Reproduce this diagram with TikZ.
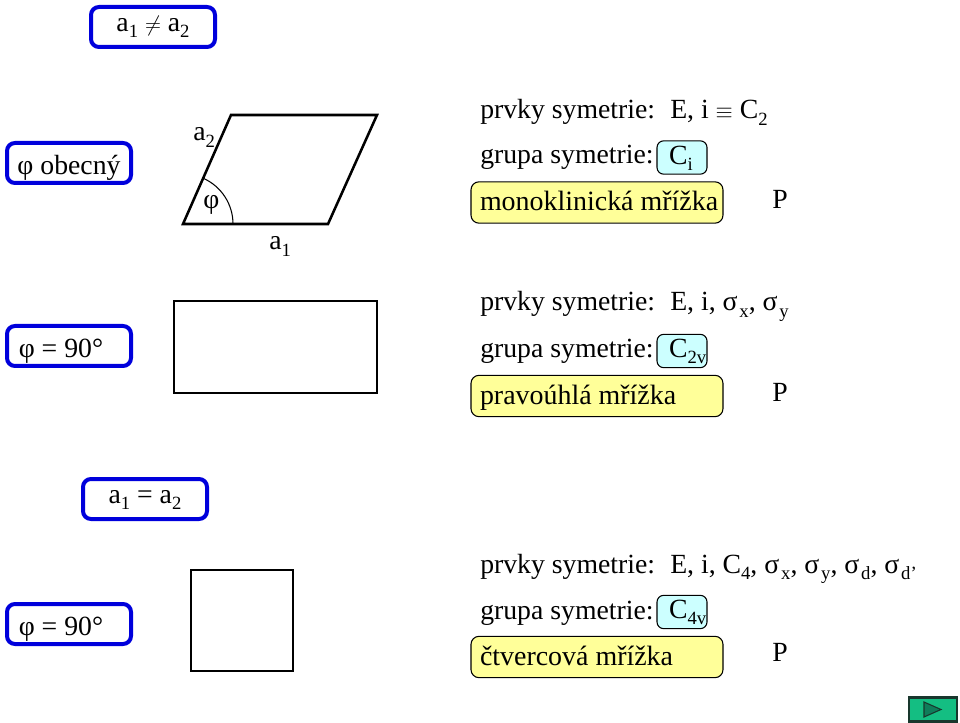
\documentclass[tikz,border=0pt]{standalone}
\usepackage{fontspec}
\usepackage{graphicx}
\setmainfont{Liberation Serif}
\newcommand{\subs}[1]{\raisebox{-0.22em}{\fontsize{14pt}{15pt}\selectfont #1}}
\newcommand{\sg}{σ\kern1.4pt}
\newcommand{\cyl}[1]{\makebox[37.5pt][l]{\hspace{9pt}#1}}
\newcommand{\yel}[1]{\makebox[189pt][l]{\hspace{6.75pt}\fontsize{20.95pt}{24pt}\selectfont #1}}
\definecolor{bluebox}{RGB}{0,0,220}
\definecolor{yellowbox}{RGB}{255,255,153}
\definecolor{cyanbox}{RGB}{204,255,255}
\definecolor{btngreen}{RGB}{20,190,130}
\definecolor{btndark}{RGB}{15,125,90}
\definecolor{btnedge}{RGB}{25,55,45}
\tikzset{
  x=0.75pt,y=-0.75pt,
  every node/.style={font=\fontsize{20.8pt}{24pt}\selectfont,inner sep=0pt,text=black},
  txt/.style={anchor=base west},
  bluetag/.style={draw=bluebox,line width=3pt,rounded corners=6pt,minimum width=93pt,minimum height=30pt,fill=white,text height=18pt,text depth=1pt},
  bluetagup/.style={bluetag,text height=12pt,text depth=5pt},
  yellowtag/.style={draw=black,line width=0.8pt,fill=yellowbox,rounded corners=6pt,minimum width=189pt,minimum height=31pt,text height=15pt,text depth=3pt},
  cyantag/.style={draw=black,line width=0.8pt,fill=cyanbox,rounded corners=5pt,minimum width=37.5pt,minimum height=25pt,text height=14pt,text depth=4pt},
  lattice/.style={draw=black,line width=1.9pt,line join=miter},
}
\begin{document}
\begin{tikzpicture}
\useasboundingbox (0,0) rectangle (960,723);
% blue tags
\node[bluetagup] (t1) at (153,27) {a\subs{1} \scalebox{.8}{$\neq$} a\subs{2}};
\node[bluetag] (t2) at (69,163) {φ obecný};
\node[bluetag] (t3) at (69,346) {φ = 90°\hspace*{12pt}};
\node[bluetagup] (t4) at (145,499) {a\subs{1} = a\subs{2}};
\node[bluetag] (t5) at (69,624) {φ = 90°\hspace*{12pt}};
% parallelogram
\coordinate (pa) at (183,224);
\coordinate (pb) at (328,224);
\coordinate (pc) at (377,115);
\coordinate (pd) at (231,115);
\draw[lattice] (pa) -- (pb) -- (pc) -- (pd) -- cycle;
\draw[line width=0.8pt] (233,224) arc[start angle=0,end angle=66,radius=37.5pt];
\node[txt] (pphi) at (203,209) {φ};
\node[txt] (pa2) at (193,141) {a\subs{2}};
\node[txt] (pa1) at (269,250) {a\subs{1}};
% rectangle and square
\node[draw=black,line width=1.9pt,minimum width=152pt,minimum height=69pt] (rect) at (275.5,347) {};
\node[draw=black,line width=1.9pt,minimum width=76.5pt,minimum height=75.75pt] (sq) at (242,620.5) {};
% group 1
\node[txt] (e1) at (480,119) {prvky symetrie:};
\node[txt] (f1) at (670,119) {E, i \scalebox{.8}{$\equiv$} C\subs{2}};
\node[txt] (g1) at (480,164) {grupa symetrie:};
\node[cyantag] (c1) at (682,157.5) {\cyl{C\subs{i}}};
\node[yellowtag] (y1) at (597,202.5) {\yel{monoklinická mřížka}};
\node[txt] (p1) at (772,209) {P};
% group 2
\node[txt] (e2) at (480,311) {prvky symetrie:};
\node[txt] (f2) at (670,311) {E, i, \sg\subs{x}, \sg\subs{y}};
\node[txt] (g2) at (480,358) {grupa symetrie:};
\node[cyantag] (c2) at (682,351) {\cyl{C\subs{2v}}};
\node[yellowtag] (y2) at (597,396) {\yel{pravoúhlá mřížka}};
\node[txt] (p2) at (772,402) {P};
% group 3
\node[txt] (e3) at (480,573) {prvky symetrie:};
\node[txt] (f3) at (670,573) {E, i, C\subs{4}, \sg\subs{x}, \sg\subs{y}, \sg\subs{d}, \sg\subs{d’}};
\node[txt] (g3) at (480,619) {grupa symetrie:};
\node[cyantag] (c3) at (682,612) {\cyl{C\subs{4v}}};
\node[yellowtag] (y3) at (597,657) {\yel{čtvercová mřížka}};
\node[txt] (p3) at (772,661) {P};
% button
\node[draw=btnedge,line width=1.8pt,fill=btngreen,minimum width=36pt,minimum height=18pt] (btn) at (933,709.5) {};
\coordinate (ba) at (924,702);
\coordinate (bb) at (924,717);
\coordinate (bc) at (941,709.5);
\draw[draw=btnedge,line width=0.8pt,fill=btndark] (ba) -- (bb) -- (bc) -- cycle;
\end{tikzpicture}
\end{document}
